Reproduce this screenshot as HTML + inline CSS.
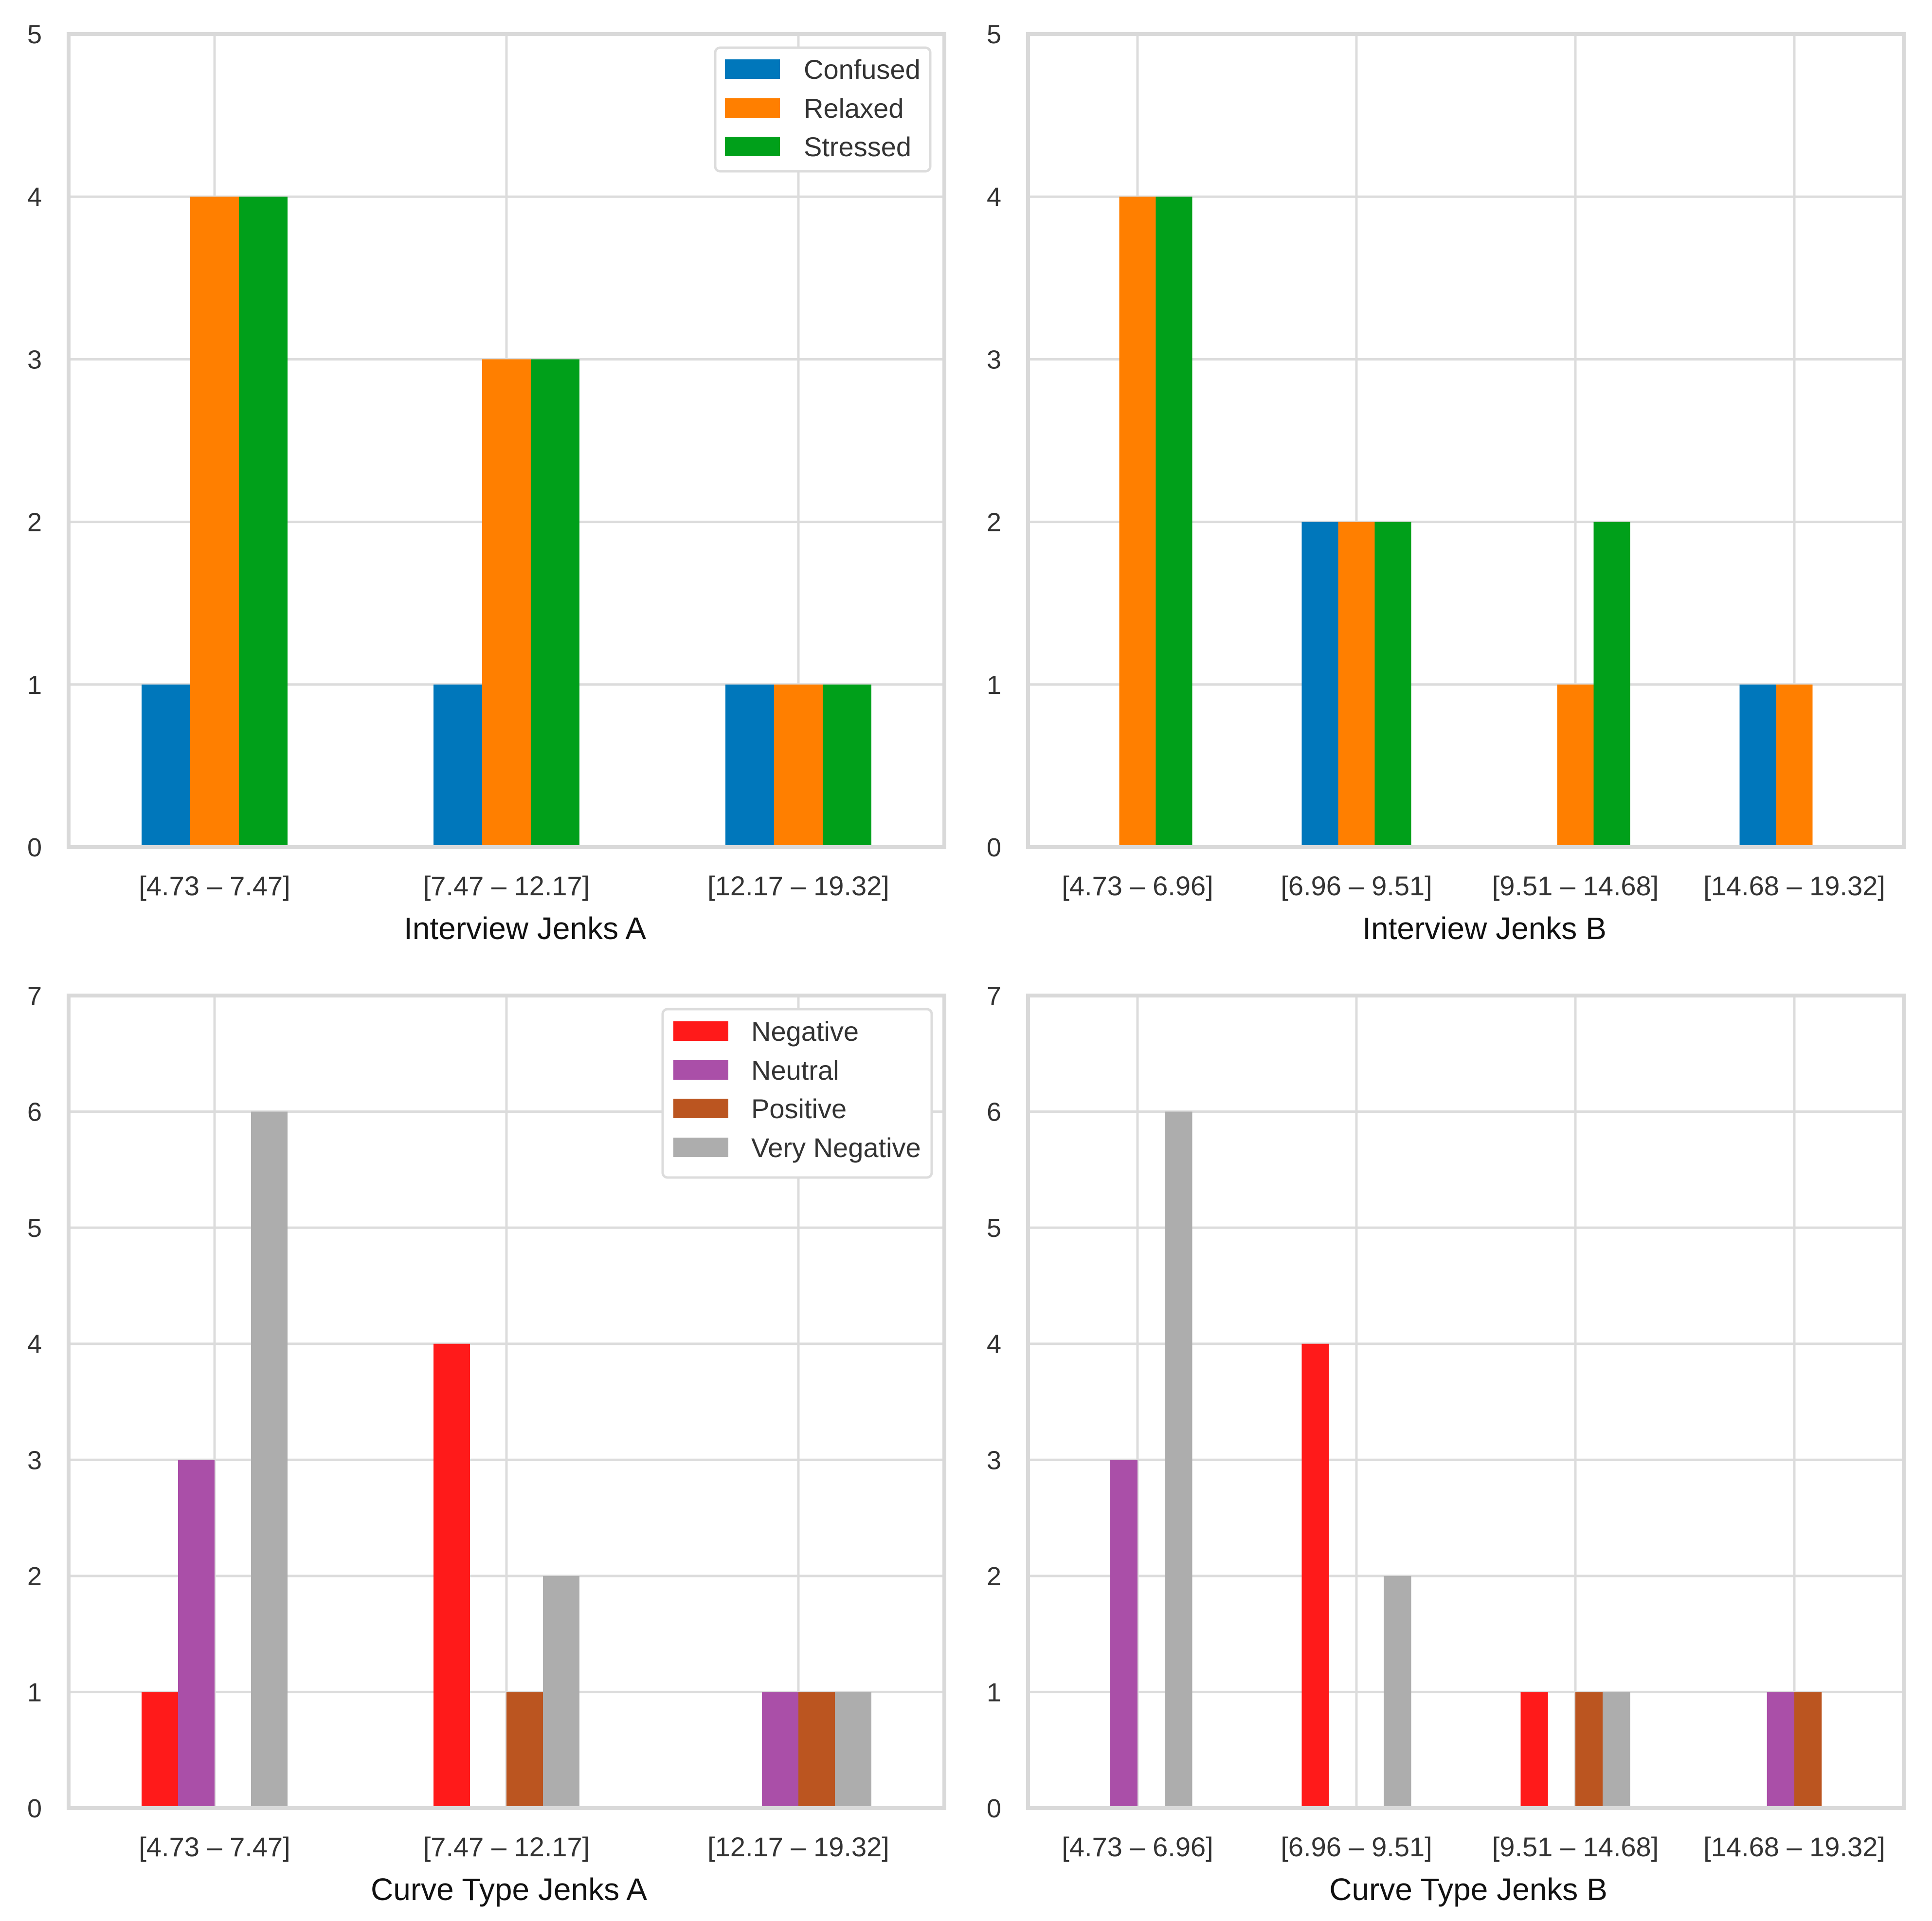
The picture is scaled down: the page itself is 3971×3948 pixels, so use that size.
<!DOCTYPE html>
<html><head><meta charset="utf-8">
<style>
html,body{margin:0;padding:0;background:#fff;}
svg{display:block;font-family:"Liberation Sans",Arial,sans-serif;}
</style></head>
<body>
<svg id="fig" width="3971" height="3948" viewBox="0 0 3971 3948" xmlns="http://www.w3.org/2000/svg"></svg>
<script>
// ---- data ----
const catsA = ["[4.73 \u2013 7.47]", "[7.47 \u2013 12.17]", "[12.17 \u2013 19.32]"];
const catsB = ["[4.73 \u2013 6.96]", "[6.96 \u2013 9.51]", "[9.51 \u2013 14.68]", "[14.68 \u2013 19.32]"];
const emoNames = ["Confused", "Relaxed", "Stressed"];
const curveNames = ["Negative", "Neutral", "Positive", "Very Negative"];
const intAConfused = [1, 1, 1];
const intARelaxed = [4, 3, 1];
const intAStressed = [4, 3, 1];
const intBConfused = [0, 2, 0, 1];
const intBRelaxed = [4, 2, 1, 1];
const intBStressed = [4, 2, 2, 0];
const curveANegative = [1, 4, 0];
const curveANeutral = [3, 0, 1];
const curveAPositive = [0, 1, 1];
const curveAVeryNeg = [6, 2, 1];
const curveBNegative = [0, 4, 1, 0];
const curveBNeutral = [3, 0, 0, 1];
const curveBPositive = [0, 0, 1, 1];
const curveBVeryNeg = [6, 2, 1, 0];
const ticks5 = [0, 1, 2, 3, 4, 5];
const ticks7 = [0, 1, 2, 3, 4, 5, 6, 7];

const emoColors = ["#0077bb", "#ff7f00", "#00a01a"];
const curveColors = ["#ff1a1a", "#aa4fa8", "#bb5520", "#adadad"];

const NS = "http://www.w3.org/2000/svg";
const svg = document.getElementById("fig");
function mk(tag, attrs, parent) {
  const e = document.createElementNS(NS, tag);
  for (const k in attrs) e.setAttribute(k, attrs[k]);
  (parent || svg).appendChild(e);
  return e;
}

function panel(opt) {
  const g = mk("g", {});
  
  
  const L = opt.left, R = opt.left + 1800, T = opt.top, B = opt.bottom;
  const ymax = opt.ticks[opt.ticks.length - 1];
  const y = v => B - (B - T) * v / ymax;
  const n = opt.cats.length;
  const step = 1800 / n;
  const x = i => L + step * (i + 0.5);
  opt.ticks.forEach(t => {
    const ln = mk("line", {x1: L, x2: R, y1: y(t), y2: y(t), stroke: "#dcdcdc", "stroke-width": 5}, g);
    
    
    const tx = mk("text", {x: L - 70, y: y(t) + 19, "text-anchor": "middle", "font-size": 54, fill: "#333"}, g);
    tx.textContent = t;
    
    
  });
  opt.cats.forEach((c, i) => {
    const ln = mk("line", {x1: x(i), x2: x(i), y1: T, y2: B, stroke: "#dcdcdc", "stroke-width": 5}, g);
    
    
    const tx = mk("text", {x: x(i), y: opt.bottom + 99, "text-anchor": "middle", "font-size": 56, fill: "#333"}, g);
    tx.textContent = c;
    
    
  });
  const ns = opt.series.length;
  const bw = step * 0.5 / ns;
  opt.series.forEach((s, si) => {
    s.forEach((v, i) => {
      if (v <= 0) return;
      const bx = x(i) - step * 0.25 + si * bw;
      const r = mk("rect", {x: bx, y: y(v), width: bw, height: B - y(v), fill: opt.colors[si]}, g);
      
      
    });
  });
  const fr = mk("rect", {x: L, y: T, width: 1800, height: B - T, fill: "none", stroke: "#d9d9d9", "stroke-width": 8}, g);
  
  
  const xt = mk("text", {x: L + 900 + opt.xoff, y: opt.bottom + 189, "text-anchor": "middle", "font-size": 64, fill: "#111"}, g);
  xt.textContent = opt.xlabel;
  
  
  if (opt.legend) {
    const lg = mk("g", {}, g);
    
    
    const lx = opt.legend.x, ly = opt.legend.y;
    mk("rect", {x: lx, y: ly, width: opt.legend.w, height: opt.legend.h, rx: 10, fill: "#fff", stroke: "#dcdcdc", "stroke-width": 5}, lg);
    opt.names.forEach((nm, si) => {
      const cy = opt.legend.rows[si];
      const e = mk("g", {}, lg);
      
      
      mk("rect", {x: opt.legend.sx, y: cy - 20, width: 113, height: 40, fill: opt.colors[si]}, e);
      const t = mk("text", {x: opt.legend.tx, y: cy + 20, "font-size": 56, fill: "#333"}, e);
      t.textContent = nm;
    });
  }
}

panel({name: "interview-jenks-a-chart", left: 141, top: 70, bottom: 1741, ticks: ticks5, cats: catsA,
  series: [intAConfused, intARelaxed, intAStressed], names: emoNames, colors: emoColors,
  xlabel: "Interview Jenks A", xoff: 38,
  legend: {x: 1470, y: 98, w: 442, h: 254, sx: 1490, tx: 1652, rows: [142, 222, 301]}});
panel({name: "interview-jenks-b-chart", left: 2113, top: 70, bottom: 1741, ticks: ticks5, cats: catsB,
  series: [intBConfused, intBRelaxed, intBStressed], names: emoNames, colors: emoColors,
  xlabel: "Interview Jenks B", xoff: 38});
panel({name: "curve-type-jenks-a-chart", left: 141, top: 2046, bottom: 3716, ticks: ticks7, cats: catsA,
  series: [curveANegative, curveANeutral, curveAPositive, curveAVeryNeg], names: curveNames, colors: curveColors,
  xlabel: "Curve Type Jenks A", xoff: 5,
  legend: {x: 1362, y: 2074, w: 553, h: 346, sx: 1384, tx: 1544, rows: [2119, 2199, 2278, 2358]}});
panel({name: "curve-type-jenks-b-chart", left: 2113, top: 2046, bottom: 3716, ticks: ticks7, cats: catsB,
  series: [curveBNegative, curveBNeutral, curveBPositive, curveBVeryNeg], names: curveNames, colors: curveColors,
  xlabel: "Curve Type Jenks B", xoff: 5});
</script>
</body></html>
